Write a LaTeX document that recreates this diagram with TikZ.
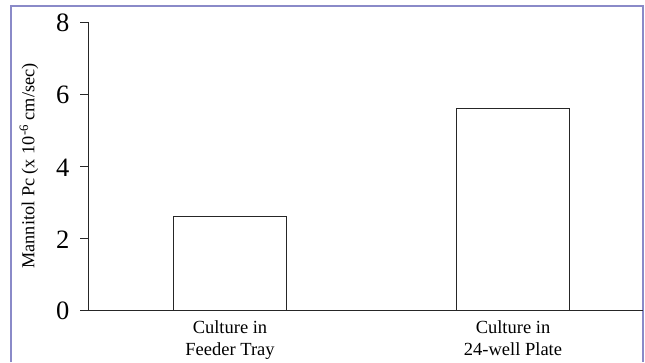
\documentclass[tikz,border=0pt]{standalone}
\usepackage{fontspec}
\setmainfont{Liberation Serif}
\usepackage{xcolor}
\usepackage{tikz}
\usetikzlibrary{positioning}
\definecolor{framelilac}{RGB}{138,138,200}
\tikzset{
  frame/.style      = { line width=2.2pt, framelilac },
  axis/.style       = { line width=1pt, black!85 },
  bar/.style        = { minimum width=113pt, inner sep=0pt, outer sep=0pt, anchor=south },
  baredge/.style    = { line width=1.4pt, black!85 },
  valuelabel/.style = { font=\fontsize{26.5}{30}\selectfont, inner sep=0pt, anchor=east },
  catlabel/.style   = { font=\fontsize{18.5}{21.7}\selectfont, align=center, inner sep=0pt },
  axislabel/.style  = { font=\fontsize{18.3}{21}\selectfont, inner sep=0pt }
}

\begin{document}
\begin{tikzpicture}[x=1pt, y=-1pt]
\useasboundingbox (0,0) rectangle (645,362);
% outer frame, open at the bottom
\draw[frame] (11,362) -- (11,6) -- (643,6) -- (643,362);
% bars
\node[bar, minimum height=93.6pt] (feeder) at (230,310) {};
\node[bar, minimum height=201.6pt] (plate) at (513,310) {};
\draw[baredge] (feeder.south west) -- (feeder.north west) -- (feeder.north east) -- (feeder.south east);
\draw[baredge] (plate.south west) -- (plate.north west) -- (plate.north east) -- (plate.south east);
\node[catlabel, below=10.5pt of feeder.south] (feederlabel) {Culture in\\Feeder Tray};
\node[catlabel, below=10.5pt of plate.south] (platelabel) {Culture in\\24-well Plate};
% axes
\coordinate (origin) at (88,310);
\coordinate (ytop) at (88,22.2);
\coordinate (xend) at (643,310);
\draw[axis] (ytop) -- (origin) -- (xend);
\foreach \v in {0,2,4,6,8} {
  \coordinate (tick\v) at (80,310-36*\v);
  \draw[axis] (tick\v) -- ++(8,0);
  \node[valuelabel, left=10.5pt of tick\v, yshift=-1.3pt] (value\v) {\v};
}
\node[axislabel, rotate=90] (ylabel) at (29,166) {Mannitol Pc (x 10\textsuperscript{-6} cm/sec)};
\end{tikzpicture}
\end{document}
